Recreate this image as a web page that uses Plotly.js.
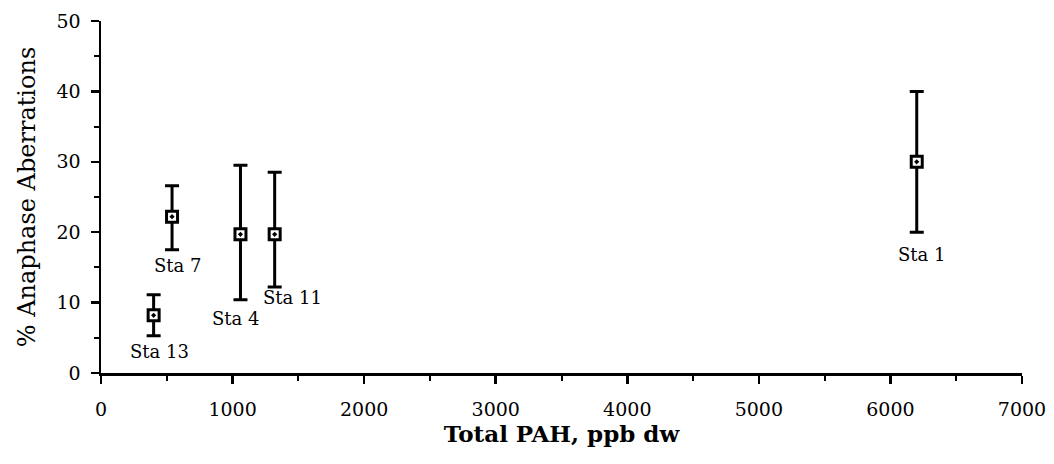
<!DOCTYPE html>
<html>
<head>
<meta charset="utf-8">
<script src="https://cdn.plot.ly/plotly-3.0.1.min.js"></script>
<style>html,body{margin:0;padding:0;background:#fff;}#chart{width:1054px;height:464px;}</style>
</head>
<body>
<div id="chart"></div>
<script>
const stations = ["Sta 13", "Sta 7", "Sta 4", "Sta 11", "Sta 1"];
const totalPAH = [400, 540, 1060, 1320, 6200];
const aberrations = [8.2, 22.2, 19.7, 19.7, 30];
const upperBound = [11.1, 26.6, 29.5, 28.5, 40];
const lowerBound = [5.3, 17.5, 10.4, 12.2, 20];
const labelX = [448, 585, 1026, 1459, 6239];
const labelY = [3.0, 15.2, 7.8, 10.7, 16.9];

const errPlus = aberrations.map((v, i) => +(upperBound[i] - v).toFixed(2));
const errMinus = aberrations.map((v, i) => +(v - lowerBound[i]).toFixed(2));

const trace = {
  x: totalPAH,
  y: aberrations,
  type: 'scatter',
  mode: 'markers',
  marker: {symbol: 'square-dot', size: 11, color: '#fff', line: {color: '#000', width: 3}},
  error_y: {type: 'data', symmetric: false, array: errPlus, arrayminus: errMinus,
            color: '#000', thickness: 3, width: 7},
  hoverinfo: 'skip'
};

const fam = '"DejaVu Serif", "Liberation Serif", serif';
const font = {family: fam, size: 19, color: '#000'};

const layout = {
  width: 1054, height: 464,
  margin: {l: 101, r: 32, t: 21, b: 91},
  paper_bgcolor: '#fff', plot_bgcolor: '#fff',
  showlegend: false,
  font: font,
  xaxis: {
    range: [0, 7000], dtick: 1000, tick0: 0,
    showgrid: false, zeroline: false,
    showline: true, linecolor: '#000', linewidth: 2.5,
    ticks: 'outside', ticklen: 8, tickwidth: 2.5, tickcolor: '#000',
    minor: {ticks: 'outside', dtick: 500, ticklen: 5, tickwidth: 2, tickcolor: '#000'},
    tickfont: font, ticklabelstandoff: 10,
    title: {text: 'Total PAH, ppb dw', font: {family: fam, size: 23, color: '#000', weight: 'bold'}, standoff: 4}
  },
  yaxis: {
    range: [0, 50], dtick: 10, tick0: 0,
    showgrid: false, zeroline: false,
    showline: true, linecolor: '#000', linewidth: 2.5,
    ticks: 'outside', ticklen: 8, tickwidth: 2.5, tickcolor: '#000',
    minor: {ticks: 'outside', dtick: 5, ticklen: 5, tickwidth: 2, tickcolor: '#000'},
    tickfont: font, ticklabelstandoff: 6,
    title: {text: '% Anaphase Aberrations', font: {family: fam, size: 24, color: '#000'}, standoff: 14}
  },
  annotations: stations.map((s, i) => ({
    x: labelX[i], y: labelY[i], xref: 'x', yref: 'y',
    text: s, showarrow: false, font: {family: fam, size: 18, color: '#000'},
    xanchor: 'center', yanchor: 'middle'
  }))
};

Plotly.newPlot('chart', [trace], layout, {displayModeBar: false, staticPlot: true});
</script>
</body>
</html>
